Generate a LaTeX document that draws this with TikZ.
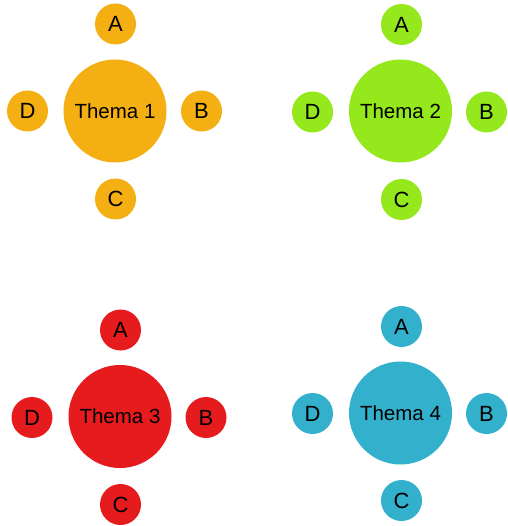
\documentclass[tikz,border=0pt]{standalone}
\usepackage{fontspec}
\setmainfont{Liberation Sans}
\definecolor{corange}{HTML}{F4AF13}
\definecolor{cgreen}{HTML}{94E81B}
\definecolor{cred}{HTML}{E61B1E}
\definecolor{cblue}{HTML}{33B0CC}
\tikzset{
  bigc/.style={circle, minimum size=103pt, inner sep=0pt, font=\fontsize{20.5}{20.5}\selectfont},
  smallc/.style={circle, minimum size=41pt, inner sep=0pt, font=\fontsize{22}{22}\selectfont},
}
\begin{document}
\begin{tikzpicture}[x=1pt,y=-1pt]
\useasboundingbox (0,0) rectangle (507,526);
% group 1
\node[bigc, fill=corange] (t1) at (115,111) {Thema 1};
\node[smallc, fill=corange] (t1a) at (115.5,24) {A};
\node[smallc, fill=corange] (t1b) at (201.5,111) {B};
\node[smallc, fill=corange] (t1c) at (115.5,199) {C};
\node[smallc, fill=corange] (t1d) at (27.5,111) {D};
% group 2
\node[bigc, fill=cgreen] (t2) at (400.5,111) {Thema 2};
\node[smallc, fill=cgreen] (t2a) at (401.5,24.5) {A};
\node[smallc, fill=cgreen] (t2b) at (486.5,112) {B};
\node[smallc, fill=cgreen] (t2c) at (401.5,199.5) {C};
\node[smallc, fill=cgreen] (t2d) at (312.5,112) {D};
% group 3
\node[bigc, fill=cred] (t3) at (120,416.5) {Thema 3};
\node[smallc, fill=cred] (t3a) at (120.5,330) {A};
\node[smallc, fill=cred] (t3b) at (206,417.5) {B};
\node[smallc, fill=cred] (t3c) at (120.5,504.5) {C};
\node[smallc, fill=cred] (t3d) at (32,417.5) {D};
% group 4
\node[bigc, fill=cblue] (t4) at (400.5,413) {Thema 4};
\node[smallc, fill=cblue] (t4a) at (401.5,326.5) {A};
\node[smallc, fill=cblue] (t4b) at (486.5,413.5) {B};
\node[smallc, fill=cblue] (t4c) at (401.5,500.5) {C};
\node[smallc, fill=cblue] (t4d) at (312.5,413.5) {D};
\end{tikzpicture}
\end{document}
